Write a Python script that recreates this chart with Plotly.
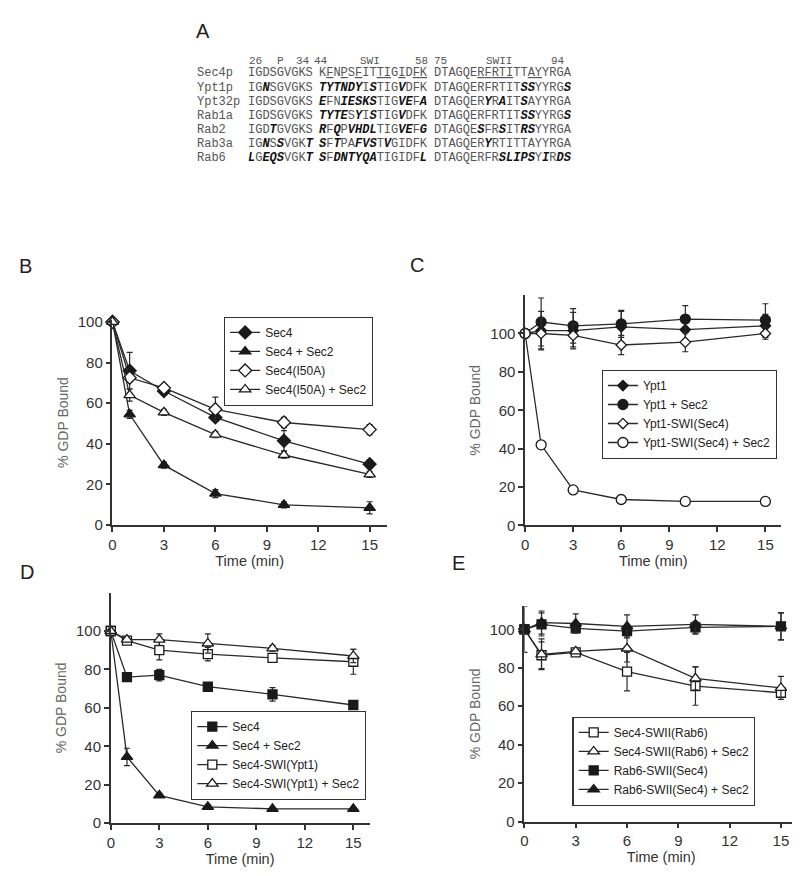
import plotly.graph_objects as go

W, H = 800, 876

# ---------------- data ----------------
time_min = [0, 1, 3, 6, 10, 15]
x_ticks = [0, 3, 6, 9, 12, 15]
y_ticks = [0, 20, 40, 60, 80, 100]

# Panel B
b_labels = ["Sec4", "Sec4 + Sec2", "Sec4(I50A)", "Sec4(I50A) + Sec2"]
b_sec4 = [100, 76, 66, 53, 41.5, 30]
b_sec4_err = [0, 9, 2, 1.5, 5, 2]
b_sec4_sec2 = [100, 54.5, 29.5, 15.5, 10, 8.5]
b_sec4_sec2_err = [0, 2, 1.5, 2, 1.5, 3]
b_i50a = [100, 72.5, 67.5, 57, 50.5, 47]
b_i50a_err = [0, 2, 1.5, 6, 2.5, 2.5]
b_i50a_sec2 = [100, 64, 55.5, 44.5, 34.5, 25]
b_i50a_sec2_err = [0, 3, 1.5, 1.5, 1.5, 1.5]

# Panel C
c_labels = ["Ypt1", "Ypt1 + Sec2", "Ypt1-SWI(Sec4)", "Ypt1-SWI(Sec4) + Sec2"]
c_ypt1 = [100, 101.5, 101.5, 103.5, 102, 104]
c_ypt1_err = [0, 10, 9.5, 8, 6, 6]
c_ypt1_sec2 = [100, 106, 104, 105, 107.5, 107]
c_ypt1_sec2_err = [0, 12.5, 9, 7, 7, 8.5]
c_swi = [100, 100, 99, 94, 95.5, 100]
c_swi_err = [0, 8, 6, 5, 5, 3]
c_swi_sec2 = [100, 42, 18.5, 13.5, 12.5, 12.5]
c_swi_sec2_err = [0, 1, 1, 1, 0.5, 0.5]

# Panel D
d_labels = ["Sec4", "Sec4 + Sec2", "Sec4-SWI(Ypt1)", "Sec4-SWI(Ypt1) + Sec2"]
d_sec4 = [100, 76, 77, 71, 67, 61.5]
d_sec4_err = [0, 1, 3, 1, 3.5, 2]
d_sec4_sec2 = [100, 34.5, 14.5, 8.5, 7.5, 7.5]
d_sec4_sec2_err = [0, 4.5, 1, 1, 0.5, 0.5]
d_swi = [100, 95, 90, 88, 86, 84]
d_swi_err = [0, 1, 5, 3.5, 2, 6.5]
d_swi_sec2 = [100, 95.5, 95.5, 93.5, 91, 87]
d_swi_sec2_err = [0, 1, 3, 5, 1.5, 3.5]

# Panel E
e_labels = ["Sec4-SWII(Rab6)", "Sec4-SWII(Rab6) + Sec2", "Rab6-SWII(Sec4)", "Rab6-SWII(Sec4) + Sec2"]
e_swii = [100, 86.5, 88, 78, 70.5, 67]
e_swii_err = [0, 7, 1, 10, 10, 2.5]
e_swii_sec2 = [100, 87, 88.5, 90, 74.5, 69.5]
e_swii_sec2_err = [0, 8, 1, 7, 6, 6]
e_rab6 = [100, 102.5, 100.5, 99, 101, 101.5]
e_rab6_err = [0, 6, 2, 3, 3, 7]
e_rab6_sec2 = [100, 103.5, 103, 101.5, 102.5, 101.5]
e_rab6_sec2_err = [12, 6, 5, 6, 5, 7]

# Panel A: sequence alignment ( * toggles bold italic, _ underlines next char )
seq_names = ["Sec4p", "Ypt1p", "Ypt32p", "Rab1a", "Rab2", "Rab3a", "Rab6"]
seq_p_loop = ["IGDSGVGKS", "IG*N*SGVGKS", "IGDSGVGKS", "IGDSGVGKS",
              "IGD*T*GVGKS", "IG*N*S*S*VGK*T*", "*L*G*EQS*VGK*T*"]
seq_switch1 = ["K_FN_PS_FIT_T_IG_ID_F_K", "*TYTNDY*I*S*TIG*V*DFK",
               "*E*FN*IESKS*TIG*VE*F*A*", "*TYTE*S*Y*I*S*TIG*V*DFK",
               "*R*F*Q*P*VHDL*TIG*VE*F*G*", "*S*F*T*PA*FVS*T*V*GIDFK",
               "*S*F*DNTYQA*TIGIDF*L*"]
seq_switch2 = ["DTAGQE_R_F_R_T_ITT_A_YYRGA", "DTAGQERFRTIT*SS*YYRG*S*",
               "DTAGQER*Y*R*A*IT*S*AYYRGA", "DTAGQERFRTIT*SS*YYRG*S*",
               "DTAGQE*S*FR*S*IT*RS*YYRGA", "DTAGQER*Y*RTITTAYYRGA",
               "DTAGQERFR*SLIPS*Y*I*R*DS*"]
header_labels = ["26", "P", "34", "44", "SWI", "58", "75", "SWII", "94"]
header_x_px = [236, 264, 283, 302, 348, 403, 422, 474, 540]

# ---------------- helpers ----------------
def px(x):
    return x / W

def py(y):
    return 1 - y / H

AX = "#333333"
FONT = "Liberation Sans, Arial, sans-serif"
MONO = "Liberation Mono, Courier New, monospace"

def markup(s):
    out = []
    bold = False
    under = False
    for ch in s:
        if ch == "*":
            bold = not bold
            continue
        if ch == "_":
            under = True
            continue
        t = ch
        if bold:
            t = '<span style="color:#111111"><b><i>' + t + '</i></b></span>'
        if under:
            t = '<span style="text-decoration:underline">' + t + '</span>'
            under = False
        out.append(t)
    return "".join(out)

fig = go.Figure()

def add_series(xa, ya, legend, name, y, err, symbol, filled, size):
    fig.add_trace(go.Scatter(
        x=time_min, y=y, name=name, mode="lines+markers",
        xaxis=xa, yaxis=ya, legend=legend, cliponaxis=False,
        line=dict(color="#2a2a2a", width=1.3),
        marker=dict(symbol=symbol, size=size,
                    color="#1a1a1a" if filled else "white",
                    line=dict(color="#1a1a1a", width=1.3)),
        error_y=dict(type="data", array=err, visible=True,
                     color="#2a2a2a", thickness=1.2, width=3),
    ))

# B
add_series("x", "y", "legend", b_labels[0], b_sec4, b_sec4_err, "diamond", True, 10)
add_series("x", "y", "legend", b_labels[1], b_sec4_sec2, b_sec4_sec2_err, "triangle-up", True, 10)
add_series("x", "y", "legend", b_labels[2], b_i50a, b_i50a_err, "diamond", False, 10)
add_series("x", "y", "legend", b_labels[3], b_i50a_sec2, b_i50a_sec2_err, "triangle-up", False, 10)
# C
add_series("x2", "y2", "legend2", c_labels[0], c_ypt1, c_ypt1_err, "diamond", True, 8)
add_series("x2", "y2", "legend2", c_labels[1], c_ypt1_sec2, c_ypt1_sec2_err, "circle", True, 10)
add_series("x2", "y2", "legend2", c_labels[2], c_swi, c_swi_err, "diamond", False, 8)
add_series("x2", "y2", "legend2", c_labels[3], c_swi_sec2, c_swi_sec2_err, "circle", False, 10)
# D
add_series("x3", "y3", "legend3", d_labels[0], d_sec4, d_sec4_err, "square", True, 9)
add_series("x3", "y3", "legend3", d_labels[1], d_sec4_sec2, d_sec4_sec2_err, "triangle-up", True, 10)
add_series("x3", "y3", "legend3", d_labels[2], d_swi, d_swi_err, "square", False, 9)
add_series("x3", "y3", "legend3", d_labels[3], d_swi_sec2, d_swi_sec2_err, "triangle-up", False, 10)
# E
add_series("x4", "y4", "legend4", e_labels[0], e_swii, e_swii_err, "square", False, 9)
add_series("x4", "y4", "legend4", e_labels[1], e_swii_sec2, e_swii_sec2_err, "triangle-up", False, 10)
add_series("x4", "y4", "legend4", e_labels[2], e_rab6, e_rab6_err, "square", True, 9)
add_series("x4", "y4", "legend4", e_labels[3], e_rab6_sec2, e_rab6_sec2_err, "triangle-up", True, 10)

def xaxis(domain, anchor):
    return dict(domain=domain, anchor=anchor, range=[0, 16], tickvals=x_ticks,
                showline=True, linecolor=AX, linewidth=1.5, ticks="outside",
                ticklen=5, tickwidth=1.5, tickcolor=AX, showgrid=False, zeroline=False,
                tickfont=dict(family=FONT, size=15, color="#333"),
                title=dict(text="Time (min)", standoff=2,
                           font=dict(family=FONT, size=14.5, color="#333")))

def yaxis(domain, anchor, top):
    return dict(domain=domain, anchor=anchor, range=[0, top], tickvals=y_ticks,
                showline=True, linecolor=AX, linewidth=1.5, ticks="outside",
                ticklen=5, tickwidth=1.5, tickcolor=AX, showgrid=False, zeroline=False,
                tickfont=dict(family=FONT, size=15, color="#333"),
                title=dict(text="% GDP Bound", standoff=6,
                           font=dict(family=FONT, size=14, color="#666")))

def legend(x, y):
    return dict(x=px(x), y=py(y), xanchor="left", yanchor="top",
                bordercolor="#333", borderwidth=1.2, bgcolor="white",
                font=dict(family=FONT, size=12, color="#222"),
                itemwidth=30, tracegroupgap=0)

annotations = []
# Panel letters
for letter, lx, ly in [("A", 192, 16), ("B", 14, 255), ("C", 407, 254),
                       ("D", 15, 567), ("E", 449, 558)]:
    annotations.append(dict(text=letter, x=px(lx), y=py(ly), xref="paper", yref="paper",
                            showarrow=False, xanchor="center", yanchor="middle",
                            font=dict(family=FONT, size=20, color="#222")))

# Panel A text
for lab, hx in zip(header_labels, header_x_px):
    annotations.append(dict(text=lab, x=px(hx), y=py(46.7), xref="paper", yref="paper",
                            showarrow=False, xanchor="left", yanchor="middle",
                            font=dict(family=MONO, size=11, color="#555")))
row_y0, row_dy = 59.5, 14.4
for i, nm in enumerate(seq_names):
    yy = py(row_y0 + i * row_dy)
    for txt, xx in [(nm, 184), (markup(seq_p_loop[i]), 235),
                    (markup(seq_switch1[i]), 307), (markup(seq_switch2[i]), 422.5)]:
        annotations.append(dict(text=txt, x=px(xx), y=yy, xref="paper", yref="paper",
                                showarrow=False, xanchor="left", yanchor="middle",
                                font=dict(family=MONO, size=12, color="#555")))

fig.update_layout(
    width=W, height=H, margin=dict(l=0, r=0, t=0, b=0),
    paper_bgcolor="white", plot_bgcolor="white",
    xaxis=xaxis([px(101), px(376.7)], "y"),
    yaxis=yaxis([py(519), py(310.2)], "x", 101),
    xaxis2=xaxis([px(515.7), px(773.3)], "y2"),
    yaxis2=yaxis([py(519.3), py(285)], "x2", 120),
    xaxis3=xaxis([px(99.3), px(359.3)], "y3"),
    yaxis3=yaxis([py(822.3), py(587.6)], "x3", 120),
    xaxis4=xaxis([px(515), px(790)], "y4"),
    yaxis4=yaxis([py(820.7), py(601.5)], "x4", 112),
    legend=legend(213, 307),
    legend2=legend(592.7, 361),
    legend3=legend(180, 708),
    legend4=legend(563.3, 714),
    annotations=annotations,
    showlegend=True,
)

fig.write_html("out.html")
